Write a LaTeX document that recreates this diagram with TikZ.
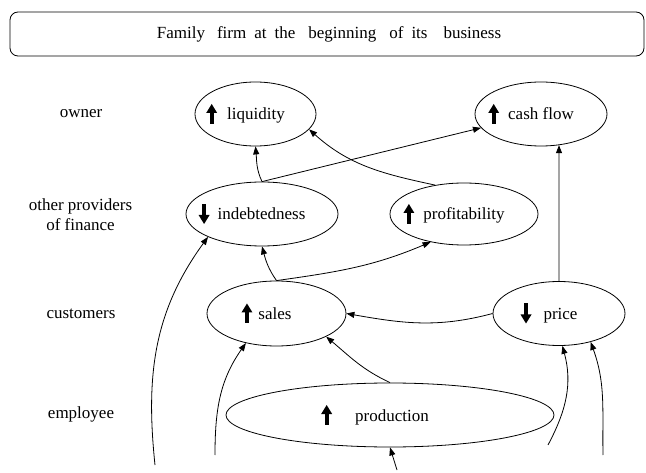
\documentclass[tikz,border=0pt]{standalone}
\usepackage{fontspec}
\setmainfont{Liberation Serif}
\usetikzlibrary{shapes.geometric,arrows.meta}
\newcommand\upa{\tikz[baseline=0pt]{\fill (-2pt,-4pt) rectangle (2pt,8pt);
  \fill[line join=round] (-5.5pt,7pt) -- (5.5pt,7pt) -- (0pt,16pt) -- cycle;}}
\newcommand\dna{\tikz[baseline=0pt]{\fill (-2pt,4pt) rectangle (2pt,16pt);
  \fill[line join=round] (-5.5pt,5pt) -- (5.5pt,5pt) -- (0pt,-4pt) -- cycle;}}
\newcommand\bubtext[1]{\makebox[0pt]{#1\hspace{20pt}}}
\begin{document}
\begin{tikzpicture}[x=1pt,y=1pt,
  every node/.style={font=\fontsize{17}{20}\selectfont},
  bub/.style={ellipse,draw,line width=0.8pt,inner sep=0pt},
  arr/.style={line width=0.8pt,-{Triangle[length=8pt,width=6pt]}},
  lab/.style={align=center}]
\useasboundingbox (0,0) rectangle (646,472);
% title
\node[draw,rounded corners=8pt,line width=0.8pt,minimum width=634pt,minimum height=44pt] (title) at (327,438)
  {\hspace{4pt}Family\hspace{12pt}firm\hspace{8pt}at\hspace{8pt}the\hspace{13pt}beginning\hspace{13pt}of\hspace{8pt}its\hspace{16pt}business};
% row labels
\node[lab] (rowowner) at (81,358) {owner};
\node[lab] (rowfin) at (80.5,257) {other providers\\of finance};
\node[lab] (rowcust) at (81,158) {customers};
\node[lab] (rowemp) at (81,58) {employee};
% bubbles
\node[bub,minimum width=121pt,minimum height=64pt] (liq) at (255.5,358) {\bubtext{\upa\hspace{10pt}liquidity}};
\node[bub,minimum width=132pt,minimum height=64pt] (cash) at (541,358) {\bubtext{\upa\hspace{9pt}cash flow}};
\node[bub,minimum width=152pt,minimum height=64pt] (ind) at (262,258) {\bubtext{\dna\hspace{8pt}indebtedness}};
\node[bub,minimum width=148pt,minimum height=62pt] (prof) at (464,258) {\bubtext{\upa\hspace{9pt}profitability}};
\node[bub,minimum width=139pt,minimum height=65pt] (sales) at (276.5,158.5) {\bubtext{\upa\hspace{6pt}sales}};
\node[bub,minimum width=132pt,minimum height=64pt] (price) at (559,158.5) {\bubtext{\dna\hspace{12pt}price}};
\node[bub,minimum width=328pt,minimum height=64pt] (prod) at (390,57) {\makebox[0pt]{\upa\hspace{23pt}production\hspace{30pt}}};
% free ends
\coordinate (e1) at (155,7);
\coordinate (e2) at (215,17);
\coordinate (e3) at (397,2);
\coordinate (e4) at (548,27);
\coordinate (e5) at (603,17);
% connectors
\draw[arr] (ind.north) to[out=115,in=-85] (liq.south);
\draw[arr] (ind.north) -- (cash.193);
\draw[arr] (prof.135) to[out=168,in=-42] (liq.-16);
\draw[arr] (sales.north) to[out=125,in=-75] (ind.south);
\draw[arr] (sales.north) to[out=8,in=-157] (prof.220);
\draw[arr] (price.north) -- (cash.-60);
\draw[arr] (price.west) to[out=195,in=-10] (sales.east);
\draw[arr] (prod.north) to[out=155,in=-40] (sales.-25);
\draw[arr] (e1) to[out=96,in=-126] (ind.203);
\draw[arr] (e2) to[out=90,in=-125] (sales.224);
\draw[arr] (e3) -- (prod.south);
\draw[arr] (e4) to[out=62,in=-75] (price.-84);
\draw[arr] (e5) to[out=91,in=-70] (price.-42);
\end{tikzpicture}
\end{document}
